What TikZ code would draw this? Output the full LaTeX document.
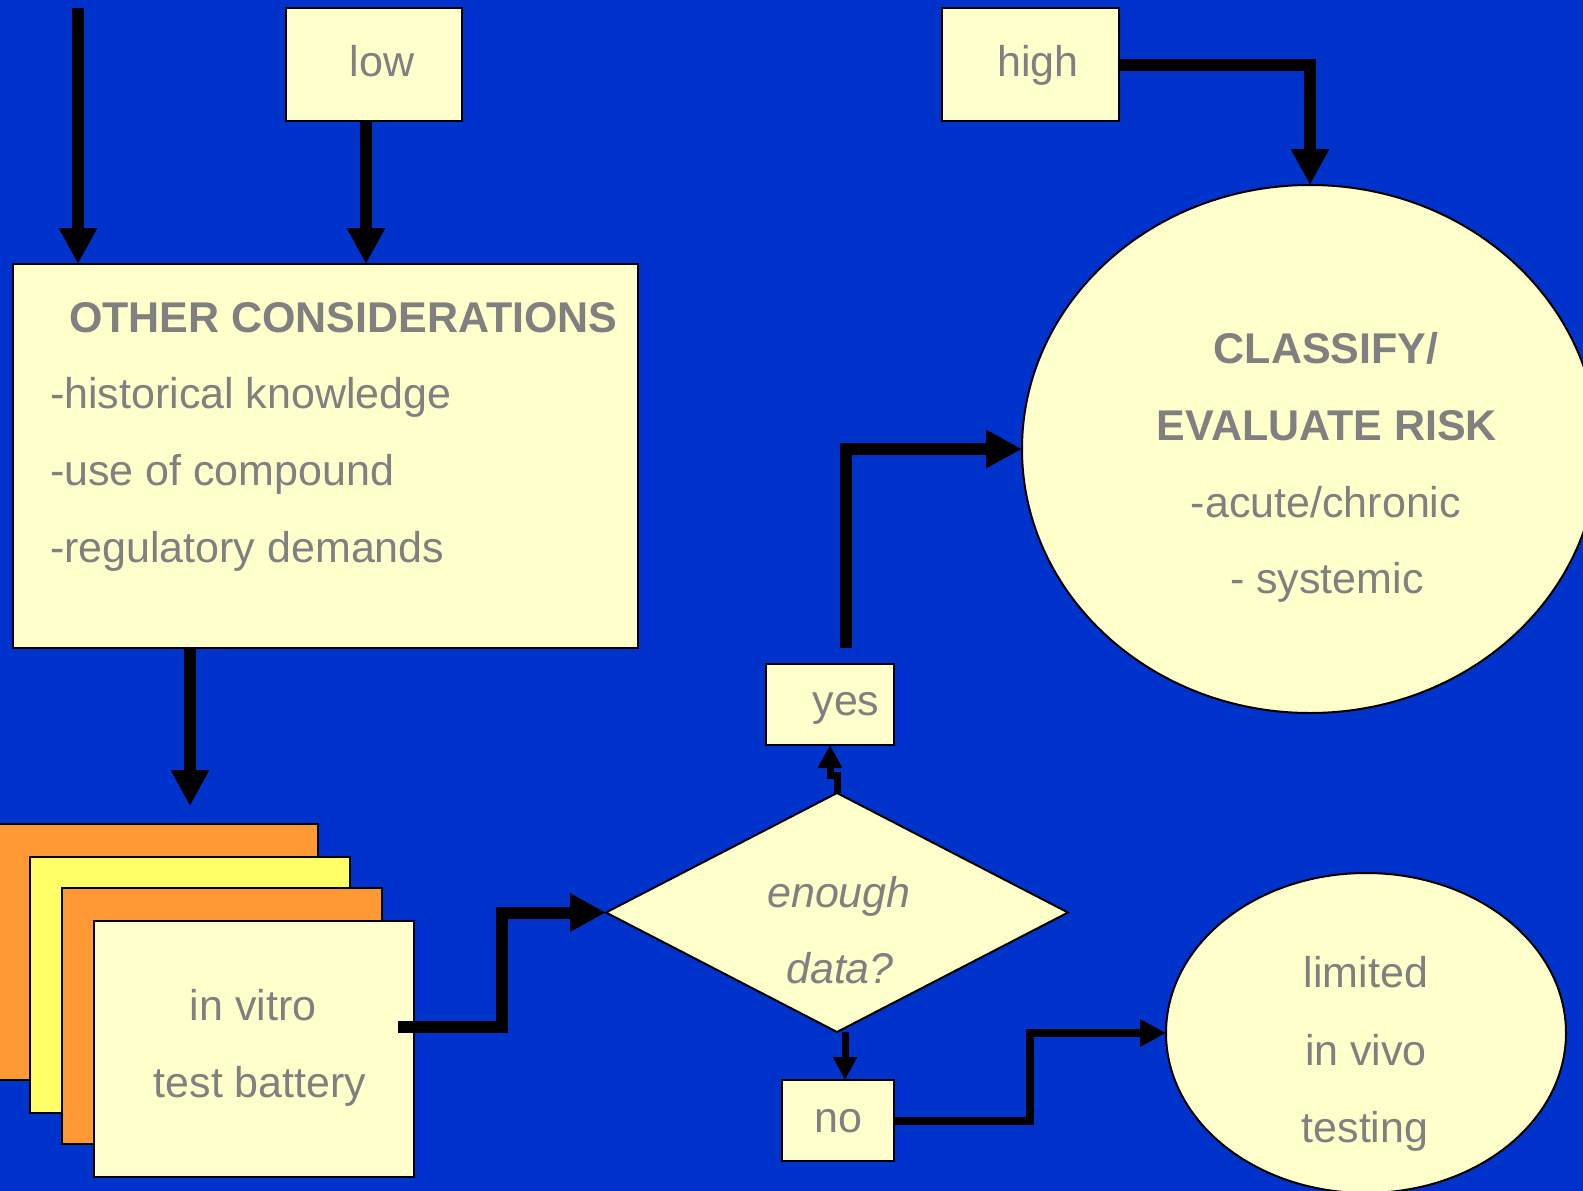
\documentclass[tikz,border=0pt]{standalone}
\usepackage{fontspec}
\setmainfont{Liberation Sans}
\usetikzlibrary{arrows.meta,shapes.geometric}
\definecolor{bg}{HTML}{0033CC}
\definecolor{cream}{HTML}{FFFFCC}
\definecolor{orng}{HTML}{FF9933}
\definecolor{yel}{HTML}{FFFF66}
\definecolor{txt}{HTML}{808080}
\begin{document}
\begin{tikzpicture}[x=1pt,y=-1pt,
  box/.style={draw=black,line width=2pt,fill=cream,inner sep=0pt,outer sep=0pt,anchor=north west},
  card/.style={draw=black,line width=2pt,inner sep=0pt,outer sep=0pt,anchor=north west,minimum width=320pt,minimum height=256pt},
  lbl/.style={text=txt,inner sep=0pt,outer sep=0pt,font=\fontsize{43}{50}\selectfont,anchor=base},
  boldlbl/.style={lbl,font=\fontsize{43}{50}\selectfont\bfseries},
  itlbl/.style={lbl,font=\fontsize{43}{50}\selectfont\itshape},
  arrbig/.style={line width=12pt,-{Triangle[width=36pt,length=36pt]}},
  arrsmall/.style={line width=7pt,-{Triangle[width=23pt,length=23pt]}},
  arrmid/.style={line width=8pt,-{Triangle[width=26pt,length=26pt]}},
  oval/.style={draw=black,ellipse,fill=cream,line width=2pt,inner sep=0pt,outer sep=0pt},
]
\fill[bg] (0,0) rectangle (1583,1191);
\useasboundingbox (0,0) rectangle (1583,1191);

% boxes
\node[box,minimum width=176pt,minimum height=113pt] (low) at (286,8) {};
\node[box,minimum width=177pt,minimum height=113pt] (high) at (942,8) {};
\node[box,minimum width=625pt,minimum height=384pt] (other) at (13,264) {};
\node[card,fill=orng,minimum width=322pt] (c1) at (-4,824) {};
\node[card,fill=yel] (c2) at (30,857) {};
\node[card,fill=orng] (c3) at (62,888) {};
\node[card,fill=cream] (vitro) at (94,921) {};
\node[draw=black,diamond,fill=cream,line width=2pt,minimum width=462pt,minimum height=239pt,inner sep=0pt,outer sep=0pt] (dia) at (837,912.5) {};
\node[box,minimum width=128pt,minimum height=81pt] (yes) at (766,664) {};
\node[box,minimum width=112pt,minimum height=81pt] (no) at (782,1080) {};
\node[oval,minimum width=576pt,minimum height=528pt] (cls) at (1310,449) {};
\node[oval,minimum width=400pt,minimum height=320pt] (lim) at (1366,1033) {};

% texts
\node[lbl] (tlow) at (382,76) {low};
\node[lbl] (thigh) at (1038,76) {high};
\node[boldlbl,anchor=base west] (t1) at (69,332) {OTHER CONSIDERATIONS};
\node[lbl,anchor=base west] (t2) at (50,408) {-historical knowledge};
\node[lbl,anchor=base west] (t3) at (50,485) {-use of compound};
\node[lbl,anchor=base west] (t4) at (50,562) {-regulatory demands};
\node[lbl] (tv1) at (253,1020) {in vitro};
\node[lbl] (tv2) at (260,1097) {test battery};
\node[itlbl] (td1) at (839,907) {enough};
\node[itlbl] (td2) at (840,983) {data?};
\node[lbl] (tyes) at (846,715) {yes};
\node[lbl] (tno) at (838,1132) {no};
\node[boldlbl] (tc1) at (1326,363) {CLASSIFY/};
\node[boldlbl] (tc2) at (1327,440) {EVALUATE RISK};
\node[lbl] (tc3) at (1326,517) {-acute/chronic};
\node[lbl] (tc4) at (1327,593) {- systemic};
\node[lbl] (tl1) at (1366,987) {limited};
\node[lbl] (tl2) at (1366,1065) {in vivo};
\node[lbl] (tl3) at (1365,1142) {testing};

% connectors
\coordinate (s0) at (78,8);
\draw[arrbig] (s0) -- (s0 |- other.north);
\coordinate (lo) at ([xshift=-8pt]low.south);
\draw[arrbig] (lo) -- (lo |- other.north);
\draw[arrbig] (high.east) -| (cls.north);
\coordinate (ob) at ([xshift=177pt]other.south west);
\coordinate (oe) at (190,806);
\draw[arrbig] (ob) -- (oe);
\coordinate (vs) at (398,1027);
\draw[arrbig] (vs) -- ++(104,0) |- (dia.west);
\draw[arrsmall] (dia.north) -- ++(0,-18) -| (yes.south);
\coordinate (nb) at ([xshift=8pt]dia.south);
\draw[arrsmall] (nb) -- (nb |- no.north);
\draw[arrmid] (no.east) -- ++(136,0) |- (lim.west);
\coordinate (ys) at (846,648);
\draw[arrbig] (ys) |- (cls.west);
\end{tikzpicture}
\end{document}
